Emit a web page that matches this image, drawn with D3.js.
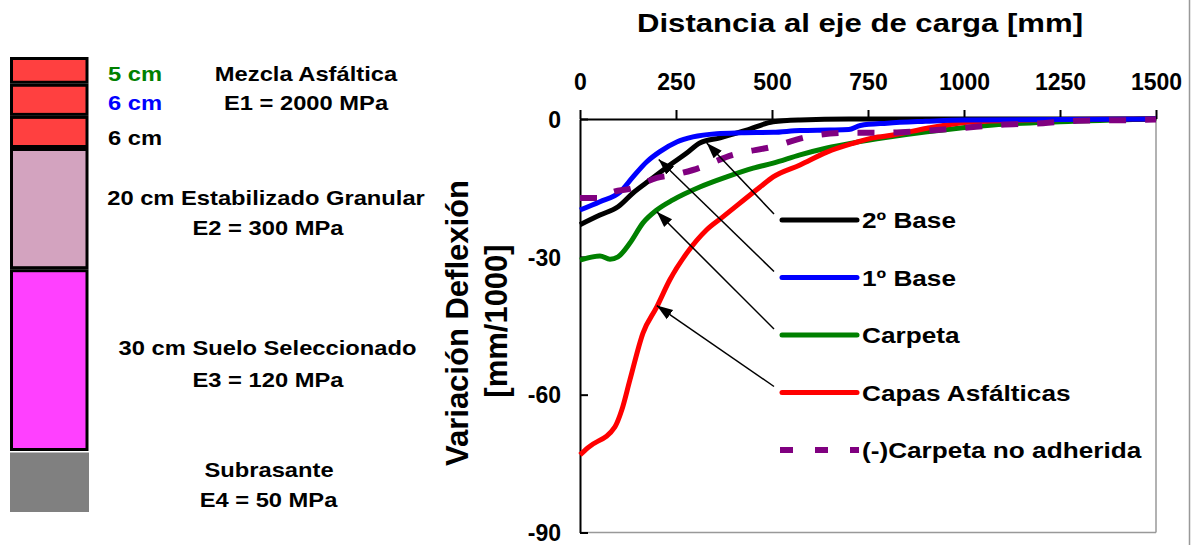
<!DOCTYPE html>
<html>
<head>
<meta charset="utf-8">
<script src="https://cdn.jsdelivr.net/npm/d3@7"></script>
<style>
  body { margin: 0; background: #fff; }
  svg { display: block; font-family: "Liberation Sans", Arial, sans-serif; font-weight: bold; }
</style>
</head>
<body>
<svg width="1193" height="545"></svg>
<script>
// distancias al eje de carga [mm]
var capasDist = [0, 21, 91, 109, 130, 164, 200, 234, 278, 330, 372, 469, 503, 573, 643, 711, 763, 815, 904, 1008, 1120, 1250, 1500];
var capasVal  = [-73.1, -71.5, -67, -63.3, -56.8, -46.6, -40.9, -35, -29.2, -24.1, -21.3, -14.8, -12.6, -10, -7.2, -5.3, -4.1, -3.5, -2, -0.7, -0.3, -0.1, 0];

var carpetaDist = [0, 52, 78, 99, 130, 164, 200, 242, 312, 382, 451, 503, 573, 643, 711, 800, 904, 1076, 1250, 1500];
var carpetaVal  = [-30.7, -29.8, -30.5, -30, -27, -22.6, -19.8, -17.6, -14.8, -12.6, -10.7, -9.6, -7.8, -6.3, -5.2, -4, -2.8, -1.3, -0.6, 0];

var base2Dist = [0, 52, 99, 138, 182, 234, 278, 312, 365, 434, 503, 573, 700, 1500];
var base2Val  = [-23, -20.9, -19.1, -16.1, -13.3, -10, -7.4, -5.2, -4.1, -2.4, -0.6, -0.2, 0, 0];

var base1Dist = [0, 52, 104, 138, 174, 208, 252, 294, 356, 420, 503, 573, 650, 700, 730, 800, 900, 1000, 1500];
var base1Val  = [-19.8, -18, -15.9, -12.6, -9.3, -7.1, -5, -3.9, -3.2, -3, -2.9, -2.5, -2.4, -2.3, -1.4, -0.9, -0.5, -0.2, 0];

var noAdhDist = [0, 60, 78, 138, 200, 242, 294, 398, 503, 591, 703, 789, 890, 990, 1089, 1206, 1294, 1458, 1500];
var noAdhVal  = [-17.2, -17.2, -16.1, -15, -12.8, -12.2, -11.1, -7.8, -6, -3.9, -3, -3, -2.6, -2, -1.3, -0.9, -0.4, -0.2, -0.1];

var xTicks = [0, 250, 500, 750, 1000, 1250, 1500];
var yTicks = [0, -30, -60, -90];

var seriesNames  = ["2º Base", "1º Base", "Carpeta", "Capas Asfálticas", "(-)Carpeta no adherida"];
var seriesColors = ["#000000", "#0000ff", "#008000", "#ff0000", "#800080"];
// punto de cada curva al que apunta la flecha de la leyenda [mm, valor]
var arrowDist = [330, 205, 200, 200];
var arrowVal  = [-5.2, -8.8, -20.2, -40.6];

// estructura del pavimento
var capaNombre  = ["a1", "a2", "a3", "base", "subbase", "subrasante"];
var capaEspesor = [5, 6, 6, 20, 30, 10];
var capaColor   = ["#ff4040", "#ff4040", "#ff4040", "#d3a3bf", "#ff40ff", "#808080"];

var svg = d3.select("svg");

// texto ensanchado horizontalmente (el original esta estirado)
function texto(g, t, px, py, size, sx, anchor, color) {
  return g.append("text")
    .attr("transform", "translate(" + px + "," + py + ") scale(" + sx + ",1)")
    .attr("text-anchor", anchor || "start")
    .attr("fill", color || "#000")
    .style("font-size", size + "px")
    .text(t);
}

// ---------- esquema de capas ----------
var cum = [0];
capaEspesor.forEach(function(e, i) { cum.push(cum[i] + e); });
var yCapa = d3.scaleLinear().domain([0, 17, 67, 77]).range([57, 148, 451, 512]);

var gCapas = svg.append("g");
gCapas.selectAll("rect")
  .data(capaEspesor)
  .enter().append("rect")
  .attr("x", function(d, i) { return i == 5 ? 10 : 11.5; })
  .attr("width", function(d, i) { return i == 5 ? 79 : 75.5; })
  .attr("y", function(d, i) { return yCapa(cum[i]) + 1.5; })
  .attr("height", function(d, i) { return yCapa(cum[i + 1]) - yCapa(cum[i]) - (i == 5 ? 1.5 : 3); })
  .attr("fill", function(d, i) { return capaColor[i]; })
  .attr("stroke", function(d, i) { return i == 5 ? "none" : "#000"; })
  .attr("stroke-width", 3);

var textos = [
  { t: "5 cm", x: 108, y: 81, a: "start", c: "#008000" },
  { t: "6 cm", x: 108, y: 110, a: "start", c: "#0000ff" },
  { t: "6 cm", x: 108, y: 145, a: "start", c: "#000" },
  { t: "Mezcla Asfáltica", x: 306, y: 81, a: "middle", c: "#000" },
  { t: "E1 = 2000 MPa", x: 306, y: 110, a: "middle", c: "#000" },
  { t: "20 cm Estabilizado Granular", x: 266, y: 205, a: "middle", c: "#000" },
  { t: "E2 = 300 MPa", x: 268, y: 235, a: "middle", c: "#000" },
  { t: "30 cm Suelo Seleccionado", x: 267.5, y: 355, a: "middle", c: "#000" },
  { t: "E3 = 120 MPa", x: 268, y: 387, a: "middle", c: "#000" },
  { t: "Subrasante", x: 269, y: 477, a: "middle", c: "#000" },
  { t: "E4 = 50 MPa", x: 268.5, y: 507, a: "middle", c: "#000" }
];
var gTxt = svg.append("g");
textos.forEach(function(d) { texto(gTxt, d.t, d.x, d.y, 21, 1.13, d.a, d.c); });

// ---------- grafico ----------
var x = d3.scaleLinear().domain([0, 1500]).range([580, 1156]);
var y = d3.scaleLinear().domain([-90, 0]).range([532.5, 119]);

svg.append("line").attr("x1", 580).attr("x2", 1156).attr("y1", 532.5).attr("y2", 532.5)
  .attr("stroke", "#999").attr("stroke-width", 1.5);
svg.append("line").attr("x1", 1156).attr("x2", 1156).attr("y1", 119).attr("y2", 532.5)
  .attr("stroke", "#999").attr("stroke-width", 1.5);
svg.append("line").attr("x1", 1189.5).attr("x2", 1189.5).attr("y1", 0).attr("y2", 545)
  .attr("stroke", "#999").attr("stroke-width", 1.5);

var fmt = function(d) { return d3.format("d")(d).replace("\u2212", "-"); };
var xAxis = svg.append("g")
  .attr("transform", "translate(0,119)")
  .call(d3.axisTop(x).tickValues(xTicks).tickFormat(fmt).tickSize(9).tickSizeOuter(0).tickPadding(20));
var yAxis = svg.append("g")
  .attr("transform", "translate(580,0)")
  .call(d3.axisLeft(y).tickValues(yTicks).tickFormat(fmt).tickSizeInner(-8).tickSizeOuter(0).tickPadding(19));

svg.selectAll(".domain, .tick line").attr("stroke", "#000").attr("stroke-width", 2);
svg.selectAll(".tick text")
  .attr("fill", "#000")
  .style("font-family", "'Liberation Sans', Arial, sans-serif")
  .style("font-weight", "bold")
  .style("font-size", "23px");
yAxis.selectAll(".tick text").attr("dy", "0.36em");

texto(svg, "Distancia al eje de carga [mm]", 860, 32, 25.5, 1.22, "middle");

svg.append("text")
  .attr("transform", "translate(468,323) rotate(-90)")
  .attr("text-anchor", "middle")
  .style("font-size", "31px")
  .text("Variación Deflexión");
svg.append("text")
  .attr("transform", "translate(507,321) rotate(-90)")
  .attr("text-anchor", "middle")
  .style("font-size", "31px")
  .text("[mm/1000]");

var line = d3.line()
  .x(function(d) { return x(d[0]); })
  .y(function(d) { return y(d[1]); })
  .curve(d3.curveMonotoneX);

var series = [
  { dist: carpetaDist, val: carpetaVal, c: 2 },
  { dist: capasDist, val: capasVal, c: 3 },
  { dist: base2Dist, val: base2Val, c: 0 },
  { dist: base1Dist, val: base1Val, c: 1 },
  { dist: noAdhDist, val: noAdhVal, c: 4 }
];

svg.append("g").selectAll("path")
  .data(series)
  .enter().append("path")
  .attr("d", function(s) { return line(d3.zip(s.dist, s.val)); })
  .attr("fill", "none")
  .attr("stroke", function(s) { return seriesColors[s.c]; })
  .attr("stroke-width", function(s) { return s.c == 4 ? 6 : 5; })
  .attr("stroke-dasharray", function(s) { return s.c == 4 ? "17,19" : null; });

// ---------- leyenda ----------
var legY = [220, 277.5, 335, 392.5, 450];
var leg = svg.append("g");
leg.selectAll("line")
  .data(seriesNames)
  .enter().append("line")
  .attr("x1", function(d, i) { return i == 4 ? 780 : 782; })
  .attr("x2", function(d, i) { return i == 4 ? 859 : 857; })
  .attr("y1", function(d, i) { return legY[i]; })
  .attr("y2", function(d, i) { return legY[i]; })
  .attr("stroke", function(d, i) { return seriesColors[i]; })
  .attr("stroke-width", function(d, i) { return i == 4 ? 6 : 5; })
  .attr("stroke-linecap", function(d, i) { return i == 4 ? "butt" : "round"; })
  .attr("stroke-dasharray", function(d, i) { return i == 4 ? "13,22" : null; });
seriesNames.forEach(function(d, i) { texto(leg, d, 862, legY[i] + 8, 22, 1.19); });

// flechas
svg.append("defs").append("marker")
  .attr("id", "punta")
  .attr("viewBox", "0 0 10 10")
  .attr("refX", 10).attr("refY", 5)
  .attr("markerWidth", 16).attr("markerHeight", 16)
  .attr("markerUnits", "userSpaceOnUse")
  .attr("orient", "auto")
  .append("path").attr("d", "M0,1.5 L10,5 L0,8.5 Z").attr("fill", "#000");

svg.append("g").selectAll("line")
  .data(arrowDist)
  .enter().append("line")
  .attr("x1", 774)
  .attr("y1", function(d, i) { return legY[i] - 6; })
  .attr("x2", function(d) { return x(d); })
  .attr("y2", function(d, i) { return y(arrowVal[i]); })
  .attr("stroke", "#000")
  .attr("stroke-width", 1.5)
  .attr("marker-end", "url(#punta)");
</script>
</body>
</html>
